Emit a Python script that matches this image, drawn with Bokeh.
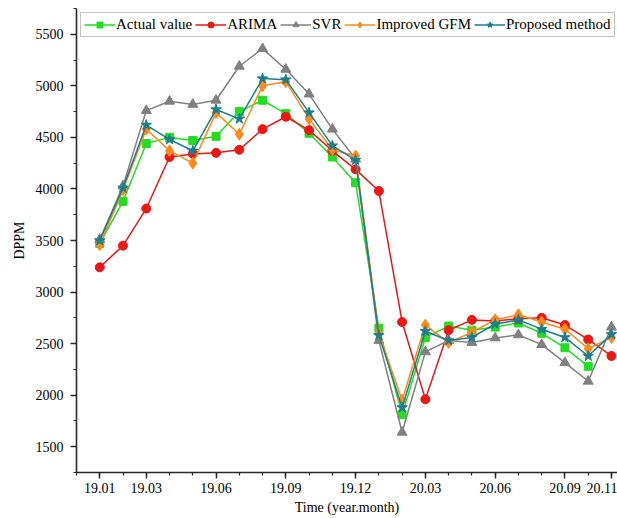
import math
from bokeh.plotting import figure
from bokeh.models import FixedTicker, Legend, LegendItem, Range1d
from bokeh.embed import file_html
from bokeh.resources import INLINE

NaN = float("nan")

months = ["19.01", "19.02", "19.03", "19.04", "19.05", "19.06", "19.07", "19.08",
          "19.09", "19.10", "19.11", "19.12", "20.01", "20.02", "20.03", "20.04",
          "20.05", "20.06", "20.07", "20.08", "20.09", "20.10", "20.11"]
labeled_months = ["19.01", "19.03", "19.06", "19.09", "19.12", "20.03", "20.06", "20.09", "20.11"]

actual   = [3470, 3880, 4440, 4500, 4470, 4510, 4750, 4860, 4730, 4540, 4310, 4060,
            2650, 1810, 2560, 2670, 2630, 2660, 2700, 2600, 2460, 2280, NaN]
arima    = [3240, 3450, 3810, 4310, 4340, 4350, 4380, 4580, 4700, 4570, 4370, 4190,
            3980, 2710, 1960, 2630, 2730, 2720, 2740, 2750, 2680, 2540, 2380]
svr      = [3510, 4030, 4760, 4850, 4820, 4860, 5190, 5360, 5160, 4920, 4580, 4290,
            2530, 1640, 2420, 2530, 2510, 2555, 2585, 2490, 2315, 2135, 2660]
gfm      = [3460, 3990, 4580, 4370, 4250, 4740, 4530, 5000, 5040, 4680, 4380, 4320,
            2600, 1950, 2680, 2510, 2610, 2730, 2780, 2710, 2640, 2450, 2560]
proposed = [3500, 4010, 4620, 4480, 4370, 4770, 4680, 5070, 5060, 4740, 4420, 4280,
            2580, 1880, 2620, 2530, 2560, 2690, 2730, 2640, 2560, 2380, 2590]

series_names = ["Actual value", "ARIMA", "SVR", "Improved GFM", "Proposed method"]

x = list(range(len(months)))

FONT = "Liberation Serif"

p = figure(width=617, height=518, x_range=Range1d(-1, 22.26), y_range=Range1d(1250, 5750),
           output_backend="svg", toolbar_location=None,
           min_border_left=76, min_border_right=0, min_border_top=8, min_border_bottom=46)
p.outline_line_color = None
p.grid.visible = False
p.background_fill_color = "white"
p.border_fill_color = "white"

styles = [
    (actual,   "#22DD22", "square",        8),
    (arima,    "#EE1515", "circle",        9),
    (svr,      "#808080", "triangle",     10),
    (gfm,      "#FF8A1C", "diamond",      12),
    (proposed, "#1B7E8C", "star",         11),
]

items = []
for (vals, color, marker, size), name in zip(styles, series_names):
    ln = p.line(x, vals, line_color=color, line_width=1.5)
    sc = p.scatter(x, vals, marker=marker, size=size, fill_color=color, line_color=color)
    items.append(LegendItem(label=name, renderers=[ln, sc]))

legend = Legend(items=items, orientation="horizontal", location="top_left",
                margin=4, padding=3, spacing=3, glyph_width=31, glyph_height=15,
                label_standoff=1, label_text_font=FONT, label_text_font_size="15px",
                label_text_color="black", label_height=15,
                border_line_color="#888888", border_line_width=1.5,
                background_fill_alpha=1.0)
p.add_layout(legend)

# x axis
label_idx = [months.index(m) for m in labeled_months]
p.xaxis.ticker = FixedTicker(ticks=label_idx, minor_ticks=list(range(-1, 23)))
p.xaxis.major_label_overrides = {i: months[i] for i in label_idx}
p.xaxis.axis_label = "Time (year.month)"

# y axis
p.yaxis.ticker = FixedTicker(ticks=list(range(1500, 5501, 500)),
                             minor_ticks=list(range(1250, 5751, 250)))
p.yaxis.axis_label = "DPPM"

for ax in (p.xaxis[0], p.yaxis[0]):
    ax.axis_line_color = "#2a2a2a"
    ax.axis_line_width = 1.6
    ax.major_tick_line_color = "#2a2a2a"
    ax.minor_tick_line_color = "#2a2a2a"
    ax.major_tick_line_width = 1.5
    ax.minor_tick_line_width = 1.2
    ax.major_tick_in = 0
    ax.major_tick_out = 6
    ax.minor_tick_in = 0
    ax.minor_tick_out = 3
    ax.major_label_text_font = FONT
    ax.major_label_text_font_size = "14px"
    ax.major_label_text_color = "black"
    ax.axis_label_text_font = FONT
    ax.axis_label_text_font_size = "14px"
    ax.axis_label_text_font_style = "normal"
    ax.axis_label_text_color = "black"

p.xaxis.major_label_standoff = 4
p.xaxis.axis_label_standoff = 4
p.yaxis.major_label_standoff = 7
p.yaxis.axis_label_standoff = 6

open("out.html", "w").write(file_html(p, INLINE))
